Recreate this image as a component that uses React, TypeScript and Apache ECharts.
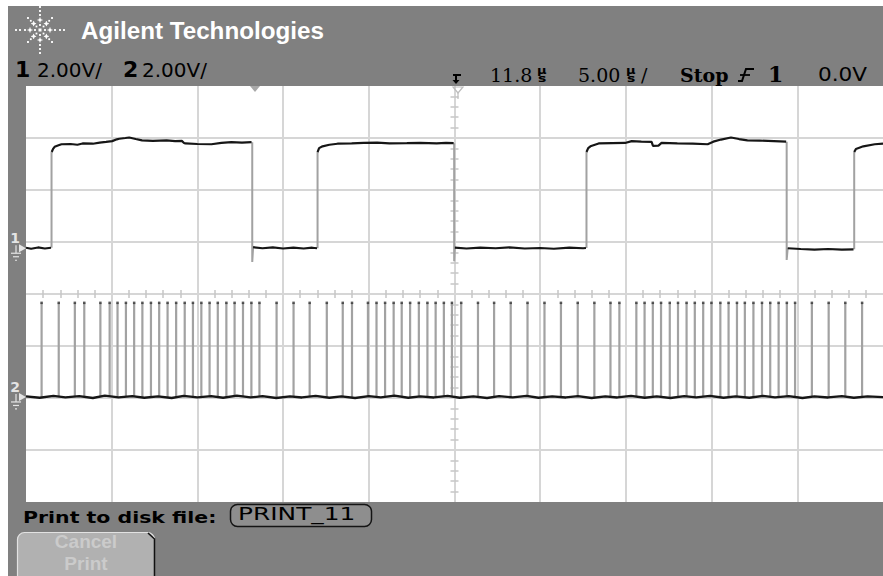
import React, { useEffect, useRef } from "react";
import * as echarts from "echarts";

// ---- scope settings ----
const VOLTS_PER_DIV = 2;
const TIME_PER_DIV = 5; // µs
const DELAY_US = 11.8;
const H_DIVS = 10;
const V_DIVS = 8;
const CH1_GROUND_DIV = 0.88;
const CH2_GROUND_DIV = -1.98;
const CH2_PULSE_HIGH_V = 3.62;

// ---- channel 1: flat sections [µs, V] ----
const ch1Levels: number[][][] = [
  [[-13.2, 0.02], [-12.9, -0.02], [-12.5, 0.03], [-12.1, -0.01], [-11.74, 0.02]],
  [[-11.7, 3.7], [-11.62, 3.82], [-11.53, 3.9], [-11.3, 3.96], [-11.13, 4.0], [-10.6, 4.01], [-10.2, 3.98], [-9.9, 4.03], [-9.3, 4.02], [-8.9, 4.06], [-8.53, 4.09], [-8.17, 4.12], [-7.9, 4.19], [-7.76, 4.21], [-7.4, 4.24], [-7.18, 4.26], [-6.8, 4.2], [-6.43, 4.15], [-5.8, 4.13], [-5.0, 4.15], [-4.5, 4.12], [-4.11, 4.13], [-3.98, 4.05], [-3.9, 4.03], [-3.2, 4.01], [-2.38, 4.0], [-1.8, 4.05], [-1.22, 4.08], [-0.6, 4.06], [-0.04, 4.08]],
  [[0.05, 0.04], [0.6, 0.0], [1.2, 0.03], [1.8, -0.01], [2.4, 0.02], [3.0, -0.01], [3.5, 0.02], [3.78, 0.0]],
  [[3.81, 3.7], [3.9, 3.85], [4.1, 3.92], [4.5, 3.98], [4.97, 4.02], [5.8, 4.03], [6.5, 4.05], [7.29, 4.06], [8.0, 4.03], [9.02, 4.04], [9.8, 4.05], [10.76, 4.03], [11.3, 4.05], [11.75, 4.04]],
  [[11.82, 0.02], [12.5, -0.01], [13.3, 0.02], [14.2, 0.0], [15.0, 0.03], [15.9, -0.01], [16.8, 0.01], [17.6, -0.02], [18.5, 0.02], [19.3, 0.0], [19.47, 0.01]],
  [[19.5, 3.7], [19.6, 3.85], [19.73, 3.92], [20.21, 4.03], [21.0, 4.04], [21.75, 4.05], [22.14, 4.12], [22.7, 4.1], [23.3, 4.09], [23.38, 3.94], [23.7, 3.95], [23.88, 4.05], [24.8, 4.03], [25.7, 4.02], [26.57, 4.0], [26.9, 4.1], [27.35, 4.18], [27.93, 4.26], [28.4, 4.2], [28.89, 4.15], [29.6, 4.14], [30.43, 4.12], [31.15, 4.1]],
  [[31.24, 0.0], [32.0, -0.03], [32.8, -0.05], [33.6, -0.03], [34.4, -0.05], [35.08, -0.04]],
  [[35.12, 3.7], [35.22, 3.82], [35.65, 3.92], [36.32, 4.0], [36.8, 4.02]],
];

// ---- channel 1: transitions [µs, V] ----
const ch1Edges: number[][][] = [
  [[-11.71, 0.02], [-11.71, 3.7]],
  [[0, 4.08], [0, -0.53], [0.05, 0.02]],
  [[3.81, 0], [3.81, 3.7]],
  [[11.78, 4.04], [11.78, -0.5], [11.82, 0.02]],
  [[19.5, 0.01], [19.5, 3.7]],
  [[31.18, 4.1], [31.18, -0.45], [31.24, 0]],
  [[35.12, -0.04], [35.12, 3.7]],
];

// ---- channel 2: pulse times (µs) ----
const ch2PulseTimes: number[] = [
  -12.29, -11.29, -10.35, -9.8, -8.86, -8.32, -7.86, -7.37, -6.89, -6.41, -5.91, -5.43, -4.94, -4.44, -3.94, -3.46, -2.97, -2.49, -2.01, -1.51, -1.03, -0.54, -0.05, 0.42,
  1.42, 2.41, 3.35, 4.35, 5.28, 5.82, 6.75, 7.25, 7.75, 8.25, 8.72, 9.21, 9.72, 10.22, 10.7, 11.18, 11.65, 12.19,
  13.17, 14.11, 15.08, 16.06, 17.05, 18.01, 18.99, 19.96, 20.9, 21.42, 22.41, 22.89, 23.37, 23.85, 24.36, 24.84, 25.34, 25.82, 26.31, 26.79, 27.31, 27.79, 28.28, 28.74, 29.24, 29.74, 30.22, 30.71, 31.19, 31.67,
  32.65, 33.63, 34.6, 35.58,
];

// ---- channel 2: baseline [µs, V] ----
const ch2Base: number[][] = [
  [-13.2, 0.02], [-12.4, -0.03], [-11.6, 0.04], [-10.9, -0.02], [-10.1, 0.03], [-9.3, -0.04], [-8.6, 0.05], [-7.8, -0.02], [-7.0, 0.03], [-6.3, -0.03], [-5.5, 0.02], [-4.7, -0.04], [-4.0, 0.04], [-3.2, -0.02], [-2.4, 0.03], [-1.7, -0.03], [-0.9, 0.05], [-0.1, -0.02], [0.6, 0.03], [1.4, -0.04], [2.2, 0.02], [2.9, -0.02], [3.7, 0.04], [4.5, -0.03], [5.2, 0.02], [6.0, -0.04], [6.8, 0.03], [7.5, -0.02], [8.3, 0.05], [9.1, -0.03], [9.8, 0.02], [10.6, -0.02], [11.4, 0.04], [12.1, -0.03], [12.9, 0.02], [13.7, -0.04], [14.4, 0.03], [15.2, -0.02], [16.0, 0.04], [16.7, -0.03], [17.5, 0.02], [18.3, -0.02], [19.0, 0.03], [19.8, -0.04], [20.6, 0.02], [21.3, -0.02], [22.1, 0.04], [22.9, -0.03], [23.6, 0.02], [24.4, -0.04], [25.2, 0.03], [25.9, -0.02], [26.7, 0.04], [27.5, -0.03], [28.2, 0.02], [29.0, -0.03], [29.8, 0.04], [30.5, -0.02], [31.3, 0.03], [32.1, -0.04], [32.8, 0.02], [33.6, -0.02], [34.4, 0.03], [35.1, -0.03], [35.9, 0.02], [36.8, -0.01],
];

// ---- layout / style ----
const W = 883;
const H = 576;
const GRID_LEFT = 26;
const GRID_TOP = 86;
const GRID_W = 864;
const GRID_H = 416;
const FRAME = "#808080";
const GRID_COLOR = "#d6d6d6";
const TICK_COLOR = "#c6c6c6";
const TRACE = "#161616";
const EDGE = "#a2a2a2";

const SANS = '"DejaVu Sans"';
const SERIF = '"DejaVu Serif"';
const ARIAL = '"Liberation Sans"';

function joinSegments(segs: number[][][]): any[] {
  const out: any[] = [];
  segs.forEach((s, i) => {
    s.forEach((p) => out.push(p));
    if (i < segs.length - 1) out.push([s[s.length - 1][0], "-"]);
  });
  return out;
}

function T(text: string, x: number, y: number, size: number, family: string, weight = "normal", fill = "#000", align = "left", scaleX = 1): any {
  return {
    type: "text", x, y, scaleX, silent: true, z: 50,
    style: { text, fontSize: size, fontFamily: family, fontWeight: weight, fill, textAlign: align, textVerticalAlign: "middle" },
  };
}

function L(x1: number, y1: number, x2: number, y2: number, stroke: string, lineWidth = 1.5): any {
  return { type: "line", silent: true, z: 50, shape: { x1, y1, x2, y2 }, style: { stroke, lineWidth } };
}

function buildGraphics(): any[] {
  const g: any[] = [];
  const centerY = GRID_TOP + GRID_H / 2;
  const divH = GRID_H / V_DIVS;
  // frame
  g.push({ type: "rect", silent: true, z: 1, shape: { x: 8, y: 6, width: W - 8, height: GRID_TOP - 6 }, style: { fill: FRAME } });
  g.push({ type: "rect", silent: true, z: 1, shape: { x: 8, y: GRID_TOP, width: GRID_LEFT - 8, height: GRID_H }, style: { fill: FRAME } });
  g.push({ type: "rect", silent: true, z: 1, shape: { x: 8, y: GRID_TOP + GRID_H, width: W - 8, height: H - GRID_TOP - GRID_H }, style: { fill: FRAME } });

  // logo starburst
  const cx = 40, cy = 30;
  const rays = [0, 45, 90, 135, 180, 225, 270, 315];
  rays.forEach((a) => {
    const diag = a % 90 !== 0;
    const radii = diag ? [5, 9, 13, 17] : a % 180 === 0 ? [5, 10, 15, 20, 24] : [5, 10, 15, 19, 23];
    radii.forEach((r, i) => {
      const x = cx + r * Math.cos((a * Math.PI) / 180);
      const y = cy - r * Math.sin((a * Math.PI) / 180);
      const s = i === 1 ? 2.4 : 1.8;
      g.push({ type: "rect", silent: true, z: 50, shape: { x: x - s / 2, y: y - s / 2, width: s, height: s }, style: { fill: "#ffffff" } });
      if (i === 1) {
        g.push(L(x - 2.5, y, x + 2.5, y, "#ffffff", 1));
        g.push(L(x, y - 2.5, x, y + 2.5, "#ffffff", 1));
      }
    });
  });
  g.push({ type: "rect", silent: true, z: 50, shape: { x: cx - 1.5, y: cy - 1.5, width: 3, height: 3 }, style: { fill: "#ffffff" } });

  // header texts
  g.push(T("Agilent Technologies", 81, 31, 23.5, ARIAL, "bold", "#ffffff", "left", 1.03));
  g.push(T("1", 15, 69, 22, SANS, "bold"));
  g.push(T("2.00V/", 37, 70, 20, SANS));
  g.push(T("2", 123, 69, 22, SANS, "bold"));
  g.push(T("2.00V/", 142, 70, 20, SANS));

  // delay reference symbol
  g.push(L(453, 75, 461, 75, "#000", 2));
  g.push(L(456, 75, 456, 82, "#000", 2));
  g.push({ type: "polygon", silent: true, z: 50, shape: { points: [[452.5, 80], [459.5, 80], [456, 84]] }, style: { fill: "#000" } });

  g.push(T("11.8", 490, 74.5, 19, SERIF));
  g.push(T("µ", 537, 70.5, 10, SANS, "bold", "#000", "left", 1.3));
  g.push(T("s", 538, 78.5, 10, SANS, "bold", "#000", "left", 1.4));
  g.push(T("5.00", 578, 74.5, 19, SERIF));
  g.push(T("µ", 626, 70.5, 10, SANS, "bold", "#000", "left", 1.3));
  g.push(T("s", 627, 78.5, 10, SANS, "bold", "#000", "left", 1.4));
  g.push(T("/", 641, 74.5, 19, SERIF));
  g.push(T("Stop", 680, 74.5, 19, SERIF, "bold"));
  // trigger edge symbol
  g.push({ type: "polyline", silent: true, z: 50, shape: { points: [[738, 81], [742, 81], [746, 69], [754, 69]] }, style: { stroke: "#000", lineWidth: 2, fill: "none" } });
  g.push(L(740, 75, 750, 75, "#000", 1.8));
  g.push(T("1", 768, 73.5, 22, SERIF, "bold"));
  g.push(T("0.0V", 818, 74.5, 20, SANS, "normal", "#000", "left", 1.08));

  // trigger point and delay markers inside the plot
  g.push({ type: "polygon", silent: true, z: 60, shape: { points: [[250, GRID_TOP], [260, GRID_TOP], [255, GRID_TOP + 6]] }, style: { fill: "#a8a8a8" } });
  g.push({ type: "polygon", silent: true, z: 60, shape: { points: [[453, GRID_TOP + 1], [463, GRID_TOP + 1], [458, GRID_TOP + 7]] }, style: { fill: "none", stroke: "#bdbdbd", lineWidth: 1.2 } });
  g.push(L(458, GRID_TOP + 7, 458, GRID_TOP + 13, "#bdbdbd", 1.2));

  // channel ground markers
  const gy1 = centerY - CH1_GROUND_DIV * divH;
  const gy2 = centerY - CH2_GROUND_DIV * divH;
  [[gy1, "1"], [gy2, "2"]].forEach(([gy, label]: any) => {
    g.push(T(label, 15, gy - 10, 14, SANS, "bold", "#e4e4e4", "center"));
    g.push({ type: "polygon", silent: true, z: 50, shape: { points: [[19, gy - 4], [26, gy], [19, gy + 4]] }, style: { fill: "#e4e4e4" } });
    g.push(L(16, gy - 3, 16, gy + 5, "#e4e4e4", 1.2));
    g.push(L(11, gy + 5, 21, gy + 5, "#e4e4e4", 1.2));
    g.push(L(13, gy + 8.5, 19, gy + 8.5, "#e4e4e4", 1.2));
    g.push(L(15, gy + 12, 17, gy + 12, "#e4e4e4", 1.2));
  });

  // bottom softkeys
  g.push(T("Print to disk file:", 23, 517.5, 16, SANS, "bold", "#000", "left", 1.28));
  g.push({ type: "rect", silent: true, z: 50, shape: { x: 230.5, y: 504.5, width: 141, height: 22, r: 7 }, style: { fill: "#8e8e8e", stroke: "#141414", lineWidth: 1.5 } });
  g.push(T("PRINT_11", 238, 514, 18, SANS, "normal", "#000", "left", 1.38));
  g.push({ type: "rect", silent: true, z: 50, shape: { x: 17.5, y: 532.5, width: 137, height: 50, r: 7 }, style: { fill: "#b1b1b1", stroke: "#e2e2e2", lineWidth: 1.2 } });
  g.push({ type: "polyline", silent: true, z: 51, shape: { points: [[148, 533], [154.5, 539], [154.5, 578]] }, style: { stroke: "#111", lineWidth: 1.6, fill: "none" } });
  g.push(T("Cancel", 86, 541, 19, ARIAL, "bold", "#cbcbcb", "center"));
  g.push(T("Print", 86, 563, 19, ARIAL, "bold", "#cbcbcb", "center"));
  return g;
}

function divAxis(position: string, onZeroIdx: number, withSplit: boolean, min: number, max: number): any {
  return {
    type: "value", min, max, interval: 1, position,
    axisLine: { show: true, onZero: true, onZeroAxisIndex: onZeroIdx, lineStyle: { color: GRID_COLOR, width: 2 } },
    axisTick: { show: false },
    minorTick: { show: true, splitNumber: 5, length: 4, lineStyle: { color: TICK_COLOR, width: 1.5 } },
    axisLabel: { show: false },
    splitLine: { show: withSplit, showMinLine: false, showMaxLine: false, lineStyle: { color: GRID_COLOR, width: 2 } },
  };
}

export default function App() {
  const ref = useRef<HTMLDivElement>(null);
  useEffect(() => {
    if (!ref.current) return;
    const chart = echarts.init(ref.current, null, { renderer: "svg" });
    const halfH = H_DIVS / 2;
    const halfV = V_DIVS / 2;
    const tMin = DELAY_US - halfH * TIME_PER_DIV;
    const tMax = DELAY_US + halfH * TIME_PER_DIV;
    const ch1Min = (-halfV - CH1_GROUND_DIV) * VOLTS_PER_DIV;
    const ch1Max = (halfV - CH1_GROUND_DIV) * VOLTS_PER_DIV;
    const ch2Min = (-halfV - CH2_GROUND_DIV) * VOLTS_PER_DIV;
    const ch2Max = (halfV - CH2_GROUND_DIV) * VOLTS_PER_DIV;

    const pulseData: any[] = [];
    ch2PulseTimes.forEach((t) => {
      pulseData.push([t, 0], [t, CH2_PULSE_HIGH_V], [t, "-"]);
    });

    const lineBase = { type: "line", symbol: "none", showSymbol: false, connectNulls: false, silent: true, clip: true, xAxisIndex: 0 };

    chart.setOption({
      animation: false,
      grid: { left: GRID_LEFT, top: GRID_TOP, width: GRID_W, height: GRID_H },
      xAxis: [
        { type: "value", min: tMin, max: tMax, show: false },
        divAxis("bottom", 0, true, -halfH, halfH),
        divAxis("top", 0, false, -halfH, halfH),
      ],
      yAxis: [
        divAxis("left", 1, true, -halfV, halfV),
        divAxis("right", 1, false, -halfV, halfV),
        { type: "value", min: ch1Min, max: ch1Max, show: false },
        { type: "value", min: ch2Min, max: ch2Max, show: false },
      ],
      graphic: { elements: buildGraphics() },
      series: [
        { ...lineBase, name: "ch2 pulses", yAxisIndex: 3, data: pulseData, lineStyle: { color: EDGE, width: 2.2 }, z: 3 },
        { type: "scatter", name: "ch2 tips", xAxisIndex: 0, yAxisIndex: 3, silent: true, symbol: "rect", symbolSize: [2.5, 2.5], itemStyle: { color: "#333" }, data: ch2PulseTimes.map((t) => [t, CH2_PULSE_HIGH_V]), z: 4 },
        { ...lineBase, name: "ch2", yAxisIndex: 3, data: ch2Base, lineStyle: { color: TRACE, width: 2.3 }, z: 5 },
        { ...lineBase, name: "ch1 edges", yAxisIndex: 2, data: joinSegments(ch1Edges), lineStyle: { color: EDGE, width: 2 }, z: 3 },
        { ...lineBase, name: "ch1", yAxisIndex: 2, data: joinSegments(ch1Levels), lineStyle: { color: TRACE, width: 2.2 }, z: 5 },
      ],
    });
    return () => chart.dispose();
  }, []);
  return <div ref={ref} style={{ position: "absolute", left: 0, top: 0, width: W, height: H }} />;
}
